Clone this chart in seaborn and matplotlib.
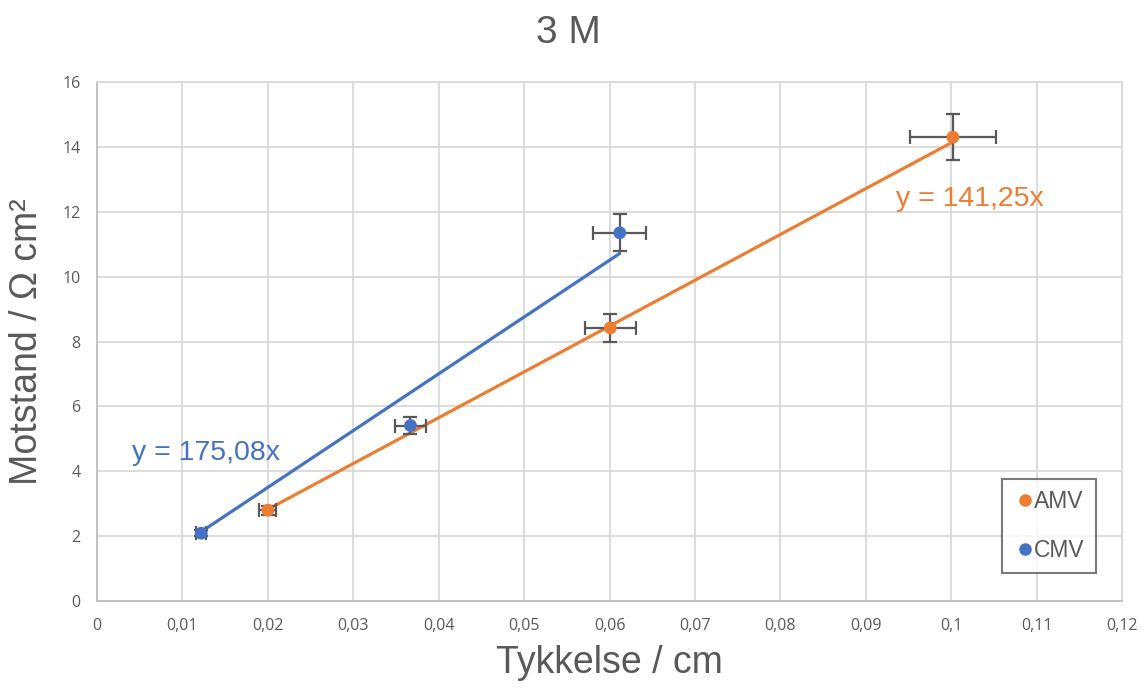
import matplotlib
matplotlib.use("Agg")
import matplotlib.pyplot as plt
import seaborn as sns
import pandas as pd
import numpy as np
from matplotlib.ticker import FuncFormatter, MultipleLocator
from matplotlib.lines import Line2D

# ---- data ----
series = ["AMV", "CMV"]
amv_x = [0.0200, 0.0601, 0.1002]
amv_y = [2.80, 8.42, 14.30]
amv_xerr = [0.0010, 0.0030, 0.0050]
amv_yerr = [0.14, 0.42, 0.71]
cmv_x = [0.0122, 0.0367, 0.0612]
cmv_y = [2.09, 5.41, 11.35]
cmv_xerr = [0.0006, 0.0018, 0.0031]
cmv_yerr = [0.10, 0.27, 0.57]
slopes = {"AMV": 141.25, "CMV": 175.08}
eq_labels = {"AMV": "y = 141,25x", "CMV": "y = 175,08x"}

colors = {"AMV": "#ED7D31", "CMV": "#4472C4"}
gray_text = "#595959"
grid_c = "#D9D9D9"

sns.set_theme(style="white")
plt.rcParams["font.family"] = ["Liberation Sans", "DejaVu Sans"]

df = pd.DataFrame({
    "x": amv_x + cmv_x,
    "y": amv_y + cmv_y,
    "Serie": ["AMV"] * len(amv_x) + ["CMV"] * len(cmv_x),
})

fig = plt.figure(figsize=(11.48, 6.88), dpi=100)
ax = fig.add_axes([97 / 1148, 87 / 688, (1122 - 97) / 1148, (601 - 82) / 688])

# trend lines
for name, xs in (("CMV", cmv_x), ("AMV", amv_x)):
    xl = [min(xs), max(xs)]
    yl = [slopes[name] * v for v in xl]
    sns.lineplot(x=xl, y=yl, ax=ax, color=colors[name], lw=2.3, legend=False, zorder=3)

# error bars
ax.errorbar(amv_x, amv_y, xerr=amv_xerr, yerr=amv_yerr, fmt="none",
            ecolor="#595959", elinewidth=1.6, capsize=5, capthick=1.6, zorder=4)
ax.errorbar(cmv_x, cmv_y, xerr=cmv_xerr, yerr=cmv_yerr, fmt="none",
            ecolor="#595959", elinewidth=1.6, capsize=5, capthick=1.6, zorder=4)

sns.scatterplot(data=df, x="x", y="y", hue="Serie", palette=colors, s=85,
                edgecolor="none", ax=ax, zorder=5, legend=False)

ax.set_xlim(0, 0.12)
ax.set_ylim(0, 16)
ax.xaxis.set_major_locator(MultipleLocator(0.01))
ax.yaxis.set_major_locator(MultipleLocator(2))
fmt = FuncFormatter(lambda v, p: (f"{v:.2f}".rstrip("0").rstrip(".")).replace(".", ","))
ax.xaxis.set_major_formatter(fmt)
ax.yaxis.set_major_formatter(FuncFormatter(lambda v, p: f"{v:.0f}"))

ax.grid(True, color=grid_c, lw=1.3)
ax.set_axisbelow(True)
for side in ("top", "right"):
    ax.spines[side].set_color(grid_c)
    ax.spines[side].set_linewidth(1.3)
for side in ("left", "bottom"):
    ax.spines[side].set_color("#BFBFBF")
    ax.spines[side].set_linewidth(1.3)
ax.tick_params(axis="both", length=0, labelsize=11.5, labelcolor=gray_text, pad=12)
for lab in ax.get_xticklabels() + ax.get_yticklabels():
    lab.set_fontfamily(["Open Sans", "DejaVu Sans"])

ax.set_xlabel("Tykkelse / cm", fontsize=27, color=gray_text, labelpad=8)
ax.set_ylabel("Motstand / Ω cm²", fontsize=27, color=gray_text, labelpad=12)

fig.text(568 / 1148, 1 - 33 / 688, "3 M", ha="center", va="center", fontsize=28, color=gray_text)

ax.text(0.0935, 12.4, eq_labels["AMV"], color=colors["AMV"], fontsize=20.5, va="center", ha="left")
ax.text(0.0041, 4.55, eq_labels["CMV"], color=colors["CMV"], fontsize=20.5, va="center", ha="left")

# legend
handles = [Line2D([], [], marker="o", ls="none", color=colors[n], markersize=8) for n in series]
leg = ax.legend(handles, series, loc="lower right",
                bbox_to_anchor=((1096 - 97) / 1025, (601 - 573) / 519),
                borderaxespad=0, frameon=True, fontsize=16.5, handletextpad=-0.1,
                labelspacing=1.1, borderpad=0.5, handlelength=1.0, fancybox=False)
leg.get_frame().set_edgecolor("#595959")
leg.get_frame().set_linewidth(1.5)
for t in leg.get_texts():
    t.set_color(gray_text)

fig.savefig("out.png", dpi=100, facecolor="white")
